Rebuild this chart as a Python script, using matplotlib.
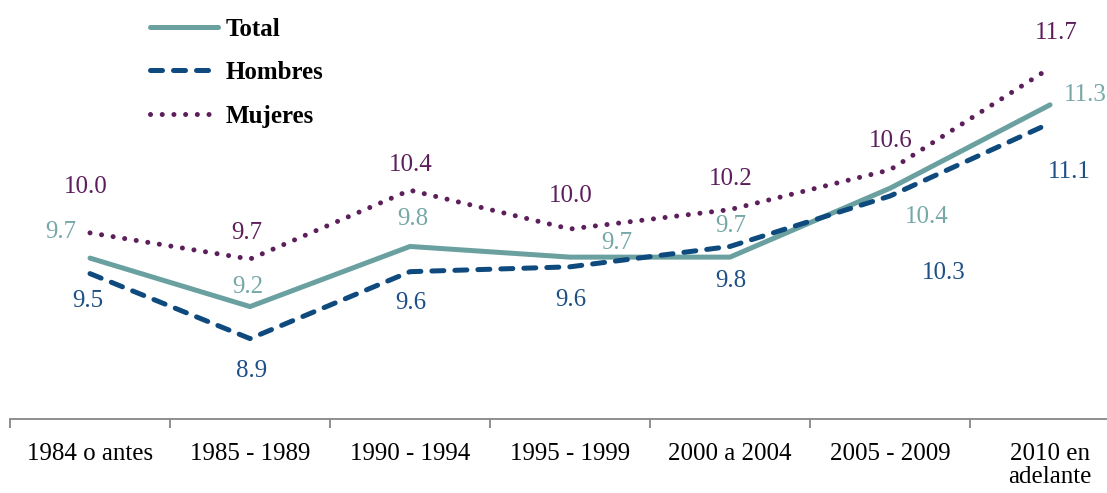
import numpy as np
import matplotlib
matplotlib.use('Agg')
import matplotlib.pyplot as plt

plt.rcParams['font.family'] = ['Liberation Serif', 'DejaVu Serif']

# categorías del eje x
categorias = ['1984 o antes', '1985 - 1989', '1990 - 1994', '1995 - 1999',
              '2000 a 2004', '2005 - 2009', '2010 en\nadelante']

# series
total = [9.70, 9.20, 9.82, 9.71, 9.71, 10.42, 11.28]
hombres = [9.54, 8.87, 9.56, 9.61, 9.82, 10.34, 11.09]
mujeres = [9.96, 9.69, 10.40, 10.00, 10.20, 10.61, 11.66]

# desplazamiento de las etiquetas (px, x derecha / y abajo)
off_total = [(-29, -26), (-2, -20), (3, -27), (47, -14), (1, -31), (37, 29), (35, -10)]
off_hombres = [(-2, 27), (2, 32), (1, 31), (1, 33), (1, 35), (54, 77), (19, 49)]
off_mujeres = [(-4, -46), (-3, -26), (1, -25), (1, -33), (1, -31), (1, -29), (6, -35)]

c_total, c_total_txt = '#6AA0A0', '#76A8A8'
c_hom, c_hom_txt = '#0E4A7E', '#1E4F85'
c_muj, c_muj_txt = '#5C1F5B', '#5C1F5B'

fig = plt.figure(figsize=(11.07, 4.93), dpi=100)
ax = fig.add_axes([10 / 1107, 1 - 419.3 / 493, 1120 / 1107, 419.3 / 493])

x = np.arange(len(categorias))
lw = 3.6
ax.plot(x, total, color=c_total, lw=lw, solid_capstyle='round',
        solid_joinstyle='round', label='Total')
ax.plot(x, hombres, color=c_hom, lw=lw, dashes=(2.4, 2.2),
        dash_capstyle='round', label='Hombres')
ax.plot(x, mujeres, color=c_muj, lw=lw, dashes=(0.01, 2.33),
        dash_capstyle='round', label='Mujeres')

fs = 18
for serie, offs, col in [(total, off_total, c_total_txt),
                         (hombres, off_hombres, c_hom_txt),
                         (mujeres, off_mujeres, c_muj_txt)]:
    for i, v in enumerate(serie):
        dx, dy = offs[i]
        ax.annotate(f'{v:.1f}', (x[i], v), xytext=(dx, -dy),
                    textcoords='offset pixels', ha='center', va='center',
                    fontsize=fs, color=col)

ax.set_xlim(-0.5, 6.5)
ax.set_ylim(8.038, 12.361)

for s in ['top', 'right', 'left']:
    ax.spines[s].set_visible(False)
ax.spines['bottom'].set_color('#868686')
ax.spines['bottom'].set_linewidth(1.3)
ax.set_yticks([])

ax.set_xticks(x)
ax.set_xticklabels(categorias, fontsize=fs, linespacing=1.05)
ax.tick_params(axis='x', which='major', length=0, pad=17)
ax.set_xticks(np.arange(-0.5, 7, 1), minor=True)
ax.tick_params(axis='x', which='minor', length=6.5, width=1.3,
               color='#868686', direction='out')

leg = ax.legend(loc='upper left', bbox_to_anchor=(132 / 1107, 1.0),
                bbox_transform=fig.transFigure, frameon=False,
                handlelength=2.75, handletextpad=0.3, labelspacing=0.82,
                borderpad=0.2, prop={'family': 'Liberation Serif',
                                     'weight': 'bold', 'size': fs})

fig.savefig('out.png', dpi=100)
